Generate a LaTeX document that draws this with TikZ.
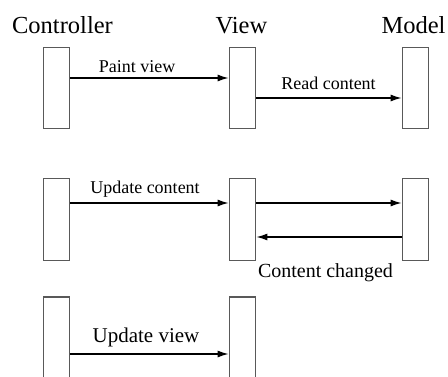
\documentclass[tikz,border=0pt]{standalone}
\usepackage{fontspec}
\setmainfont{Liberation Serif}
\usetikzlibrary{arrows.meta}

\begin{document}
\begin{tikzpicture}[x=1pt, y=1pt,
        bar/.style={draw=black!65, line width=1.8pt, minimum width=26pt, inner sep=0pt},
        msg/.style={line width=1.2pt, -{Latex[length=11pt, width=7pt]}},
        head/.style={font=\fontsize{24.5}{28}\selectfont, anchor=base},
        lbl/.style={font=\fontsize{18}{21}\selectfont, anchor=base}]
        \useasboundingbox (0, 0) rectangle (448, 376);
        \clip (0, 0) rectangle (448, 376);

        % headers
        \node[head] (ctrl)  at (62.5, 343) {Controller};
        \node[head] (view)  at (241.5, 343) {View};
        \node[head] (model) at (413.5, 343) {Model};

        % first row: paint
        \node[bar, minimum height=81pt] (c1) at (56.5, 288) {};
        \node[bar, minimum height=81pt] (v1) at (242.5, 288) {};
        \node[bar, minimum height=81pt] (m1) at (415.5, 288) {};

        \draw[msg] ([yshift=10pt]c1.east) -- ([yshift=10pt]v1.west);
        \draw[msg] ([yshift=-10pt]v1.east) -- ([yshift=-10pt]m1.west);
        \node[lbl] (paint) at (137, 303.5) {Paint view};
        \node[lbl] (read)  at (328.5, 287) {Read content};

        % second row: update content
        \node[bar, minimum height=82pt] (c2) at (56.5, 156.5) {};
        \node[bar, minimum height=82pt] (v2) at (242.5, 156.5) {};
        \node[bar, minimum height=82pt] (m2) at (415.5, 156.5) {};

        \draw[msg] ([yshift=16.5pt]c2.east) -- ([yshift=16.5pt]v2.west);
        \draw[msg] ([yshift=16.5pt]v2.east) -- ([yshift=16.5pt]m2.west);
        \draw[msg] ([yshift=-17.5pt]m2.west) -- ([yshift=-17.5pt]v2.east);
        \node[lbl] (upd)     at (145, 183) {Update content};
        \node[lbl, font=\fontsize{20}{23}\selectfont] (changed) at (325.5, 99) {Content changed};

        % third row: update view
        \node[bar, minimum height=100pt] (c3) at (56.5, 29) {};
        \node[bar, minimum height=100pt] (v3) at (242.5, 29) {};

        \draw[msg] ([yshift=-7pt]c3.east) -- ([yshift=-7pt]v3.west);
        \node[lbl, font=\fontsize{21}{24}\selectfont] (updview) at (146, 34) {Update view};
    \end{tikzpicture}
\end{document}
